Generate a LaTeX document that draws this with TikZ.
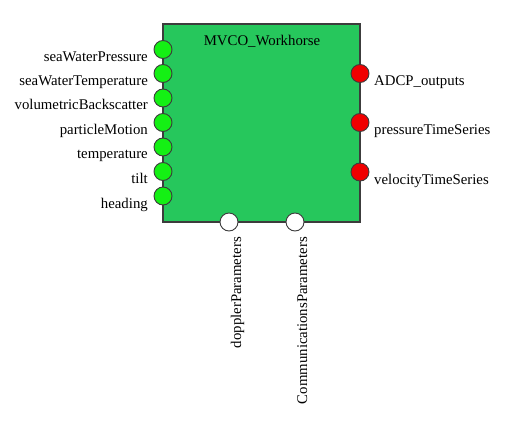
\documentclass[tikz,border=0pt]{standalone}
\usepackage{fontspec}
\setmainfont{Liberation Serif}
\usepackage{tikz}
\usetikzlibrary{positioning}
\definecolor{boxgreen}{RGB}{38,199,92}
\definecolor{ingreen}{RGB}{20,240,20}
\definecolor{outred}{RGB}{240,0,0}
\definecolor{edgegray}{RGB}{60,60,60}
\tikzset{
    block/.style={draw=edgegray, fill=boxgreen, line width=1.2pt,
        minimum width=197pt, minimum height=198pt, inner sep=0pt},
    port/.style={circle, draw=edgegray, line width=0.9pt,
        minimum size=18pt, inner sep=0pt},
    inport/.style={port, fill=ingreen},
    outport/.style={port, fill=outred},
    paramport/.style={port, fill=white},
    portlabel/.style={inner sep=0pt, font=\fontsize{14.8}{17}\selectfont},
}
\begin{document}
\begin{tikzpicture}[x=1pt, y=-1pt]
\useasboundingbox (0,0) rectangle (524,430);
	\node[block] (workhorse) at (261.5,123) {};
	\node[portlabel, anchor=base] (title) at (262,46) {MVCO\_Workhorse};
	% inputs
	\node[inport] (pressure) at (163,49.5) {};
	\node[inport] (watertemp) at (163,73.5) {};
	\node[inport] (backscatter) at (163,98) {};
	\node[inport] (motion) at (163,122.5) {};
	\node[inport] (temp) at (163,147) {};
	\node[inport] (tilt) at (163,171.5) {};
	\node[inport] (heading) at (163,196) {};
	\node[portlabel, anchor=base east] (pressurelbl) at (148,61.5) {seaWaterPressure};
	\node[portlabel, anchor=base east] (watertemplbl) at (148,85.5) {seaWaterTemperature};
	\node[portlabel, anchor=base east] (backscatterlbl) at (148,110) {volumetricBackscatter};
	\node[portlabel, anchor=base east] (motionlbl) at (148,134.5) {particleMotion};
	\node[portlabel, anchor=base east] (templbl) at (148,159) {temperature};
	\node[portlabel, anchor=base east] (tiltlbl) at (148,183.5) {tilt};
	\node[portlabel, anchor=base east] (headinglbl) at (148,208) {heading};
	% outputs
	\node[outport] (adcp) at (360,73.5) {};
	\node[outport] (pressureseries) at (360,122.5) {};
	\node[outport] (velocityseries) at (360,172) {};
	\node[portlabel, anchor=base west] (adcplbl) at (374,86) {ADCP\_outputs};
	\node[portlabel, anchor=base west] (pressureserieslbl) at (374,135) {pressureTimeSeries};
	\node[portlabel, anchor=base west] (velocityserieslbl) at (374,184.5) {velocityTimeSeries};
	% parameters
	\node[paramport] (doppler) at (229,222) {};
	\node[paramport] (comms) at (295,222) {};
	\node[portlabel, rotate=90, anchor=base east] (dopplerlbl) at (241,237) {dopplerParameters};
	\node[portlabel, rotate=90, anchor=base east] (commslbl) at (307,237) {CommunicationsParameters};
\end{tikzpicture}
\end{document}
